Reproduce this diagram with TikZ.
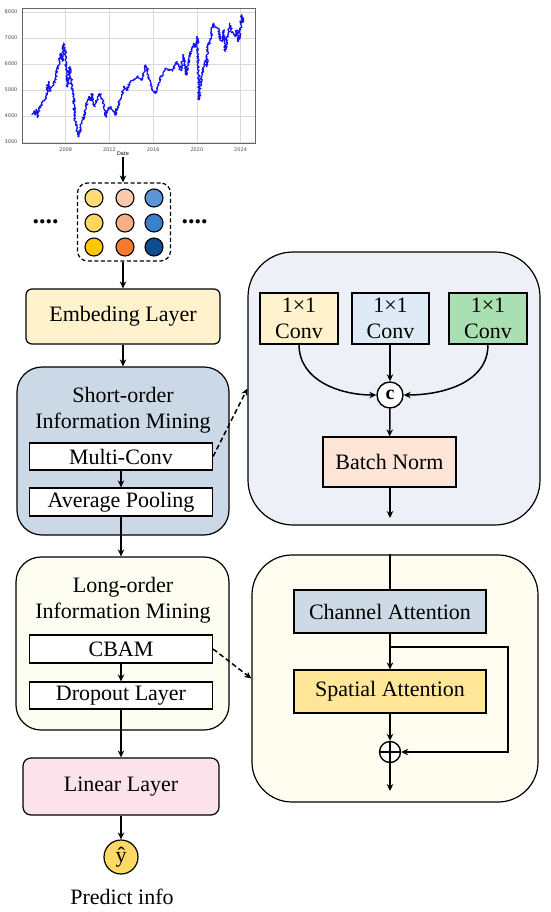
\documentclass[tikz,border=0pt]{standalone}
\usepackage{fontspec}
\setmainfont{Liberation Serif}
\newfontfamily\chartfont{DejaVu Sans}
\usetikzlibrary{arrows.meta,decorations.pathmorphing,positioning}
\definecolor{embedc}{RGB}{255,242,204}
\definecolor{shortc}{RGB}{203,216,229}
\definecolor{longc}{RGB}{254,253,242}
\definecolor{linearc}{RGB}{252,226,234}
\definecolor{convbg}{RGB}{237,241,247}
\definecolor{cbambg}{RGB}{255,253,239}
\definecolor{convA}{RGB}{255,242,204}
\definecolor{convB}{RGB}{222,235,247}
\definecolor{convC}{RGB}{169,223,177}
\definecolor{bnc}{RGB}{252,228,214}
\definecolor{cac}{RGB}{205,217,228}
\definecolor{sac}{RGB}{255,230,153}
\definecolor{yhatc}{RGB}{255,217,102}
\definecolor{plotblue}{RGB}{20,20,240}
\newcommand{\bigfont}{\fontsize{22}{26}\selectfont}
\tikzset{
  layer/.style={draw, line width=1.2pt, rounded corners=6pt, inner sep=0pt, font=\bigfont},
  block/.style={draw, line width=1.2pt, rounded corners=#1, inner sep=0pt},
  block/.default=25pt,
  sub/.style={draw, line width=1.2pt, fill=white, minimum width=183pt, inner sep=0pt, font=\bigfont},
  inbox/.style={draw, line width=1.2pt, inner sep=0pt, font=\bigfont, align=center},
  flow/.style={-{Stealth[length=7pt,width=6.5pt]}, line width=1.5pt},
  link/.style={flow, dash pattern=on 5pt off 3pt},
  token/.style={circle, draw, line width=1.1pt, minimum size=18pt, inner sep=0pt},
}
\begin{document}
\begin{tikzpicture}[x=1pt,y=-1pt]
\useasboundingbox (0,0) rectangle (550,912);
% price chart
\begin{scope}[shift={(-21.72,220)},x=10.93pt,y=26pt,font=\chartfont\fontsize{5}{6}\selectfont]
  \foreach \yr in {8,12,16,20,24}{
    \draw[black!15, line width=0.6pt] (\yr,2.94) -- (\yr,8.15);
    \node[anchor=north, text=black!70] at (\yr,2.9) {20\ifnum\yr<10 0\fi\yr};
  }
  \foreach \v in {3,...,8}{
    \draw[black!15, line width=0.6pt] (4.0,\v) -- (25.3,\v);
    \node[anchor=east, text=black!70] at (3.9,\v) {\v000};
  }
  \draw[black!60, line width=0.6pt] (4.0,2.94) rectangle (25.3,8.15);
  \pgfmathsetseed{11}
  \draw[plotblue, line width=1.2pt, line join=round,
    decorate, decoration={random steps, segment length=0.8pt, amplitude=1.3pt}]
    (4.9,4.04) -- (5.1,4.2) -- (5.2,4.05) -- (5.3,4.25) -- (5.4,3.95) -- (5.6,4.3) -- (6.0,4.6)
    -- (6.2,4.75) -- (6.4,5.32) -- (6.5,4.96) -- (6.7,5.1) -- (6.9,5.19) -- (7.1,5.5) -- (7.3,5.9)
    -- (7.5,6.3) -- (7.6,6.41) -- (7.7,6.1) -- (7.8,6.8) -- (7.95,6.5) -- (8.1,5.64) -- (8.2,5.13)
    -- (8.3,5.6) -- (8.4,5.9) -- (8.55,5.2) -- (8.7,4.74) -- (8.9,3.72) -- (9.05,3.4) -- (9.2,3.2)
    -- (9.35,3.6) -- (9.5,3.72) -- (9.8,4.23) -- (10.0,4.6) -- (10.1,4.74) -- (10.3,4.6) -- (10.4,4.87)
    -- (10.55,4.5) -- (10.7,4.36) -- (10.9,4.7) -- (11.1,4.87) -- (11.4,4.62) -- (11.6,4.2) -- (11.7,3.97)
    -- (11.9,4.3) -- (12.1,4.36) -- (12.3,4.2) -- (12.5,4.04) -- (12.7,4.3) -- (13.0,4.62) -- (13.2,4.9)
    -- (13.4,5.13) -- (13.6,5.0) -- (13.9,5.32) -- (14.2,5.4) -- (14.5,5.51) -- (14.8,5.45) -- (15.0,5.38)
    -- (15.2,5.7) -- (15.3,5.96) -- (15.45,5.8) -- (15.6,5.51) -- (15.75,5.2) -- (15.9,5.06) -- (16.1,4.9)
    -- (16.2,4.87) -- (16.4,5.1) -- (16.6,5.38) -- (16.9,5.6) -- (17.2,5.83) -- (17.5,5.75) -- (17.8,5.77)
    -- (18.0,5.95) -- (18.2,6.09) -- (18.35,5.9) -- (18.5,5.77) -- (18.65,6.1) -- (18.8,6.35) -- (19.0,5.57)
    -- (19.2,6.0) -- (19.4,6.35) -- (19.55,6.6) -- (19.7,6.8) -- (19.85,6.65) -- (20.05,7.05) -- (20.15,5.5)
    -- (20.2,4.62) -- (20.4,5.51) -- (20.6,5.8) -- (20.8,6.15) -- (20.9,5.9) -- (21.0,6.67) -- (21.2,6.9)
    -- (21.5,7.57) -- (21.7,7.4) -- (22.0,7.32) -- (22.15,6.95) -- (22.3,6.86) -- (22.45,7.3) -- (22.6,6.48)
    -- (22.8,7.1) -- (23.0,7.57) -- (23.2,7.2) -- (23.5,7.05) -- (23.65,7.3) -- (23.8,6.86) -- (24.0,7.4)
    -- (24.1,7.88) -- (24.2,7.6) -- (24.3,7.7);
\end{scope}
\node[font=\chartfont\fontsize{5}{6}\selectfont, inner sep=1pt] (date) at (123,154) {Date};

% input tokens
\node[draw, line width=1.2pt, dash pattern=on 4pt off 2.5pt, rounded corners=10pt,
  minimum width=93pt, minimum height=78pt] (tokens) at (124,222) {};
\node[token, fill={rgb,255:red,255;green,220;blue,115}] (tok-1-1) at (94,198) {};
\node[token, fill={rgb,255:red,255;green,215;blue,94}]  (tok-2-1) at (94,223) {};
\node[token, fill={rgb,255:red,255;green,199;blue,0}]   (tok-3-1) at (94,247) {};
\node[token, fill={rgb,255:red,248;green,203;blue,173}] (tok-1-2) at (125,198) {};
\node[token, fill={rgb,255:red,244;green,177;blue,131}] (tok-2-2) at (125,223) {};
\node[token, fill={rgb,255:red,244;green,123;blue,48}]  (tok-3-2) at (125,247) {};
\node[token, fill={rgb,255:red,91;green,149;blue,216}]  (tok-1-3) at (154,198) {};
\node[token, fill={rgb,255:red,58;green,128;blue,207}]  (tok-2-3) at (154,223) {};
\node[token, fill={rgb,255:red,13;green,76;blue,143}]   (tok-3-3) at (154,247) {};
\node[font=\fontsize{26}{26}\selectfont\bfseries] (dotsL) at (45.5,222) {....};
\node[font=\fontsize{26}{26}\selectfont\bfseries] (dotsR) at (194.5,222) {....};

% left column
\node[layer, fill=embedc, minimum width=194pt, minimum height=55pt] (embed) at (123,316.5) {Embeding Layer};
\node[block, fill=shortc, minimum width=212pt, minimum height=168pt] (short) at (123,451) {};
\node[font=\bigfont, align=center, inner sep=0pt] (shorttitle) at (123,410) {Short-order\\Information Mining};
\node[sub, minimum height=27pt] (mconv) at (121,456.5) {Multi-Conv};
\node[sub, minimum height=28pt] (avgpool) at (121,502) {Average Pooling};
\node[block, fill=longc, minimum width=213pt, minimum height=173pt] (long) at (122.5,643.5) {};
\node[font=\bigfont, align=center, inner sep=0pt] (longtitle) at (123,600) {Long-order\\Information Mining};
\node[sub, minimum height=28pt] (cbam) at (121,649) {CBAM};
\node[sub, minimum height=27pt] (dropout) at (121,695.5) {Dropout Layer};
\node[layer, fill=linearc, rounded corners=8pt, minimum width=196pt, minimum height=57pt] (linear) at (121,786.5) {Linear Layer};
\node[circle, draw, line width=1.2pt, fill=yhatc, minimum size=34pt, inner sep=0pt, font=\bigfont] (yhat) at (121,857) {ŷ};
\node[font=\bigfont, inner sep=0pt] (pred) at (122,897) {Predict info};

\draw[flow] (date) -- (date |- tokens.north);
\draw[flow] (tokens.south -| embed.north) -- (embed.north);
\draw[flow] (embed) -- (short);
\draw[flow] (mconv) -- (avgpool);
\draw[flow] (avgpool.south) -- (avgpool.south |- long.north);
\draw[flow] (cbam) -- (dropout);
\draw[flow] (dropout.south) -- (dropout.south |- linear.north);
\draw[flow] (linear.south) -- (linear.south |- yhat.north);

% multi-conv detail
\node[block=45pt, fill=convbg, minimum width=292pt, minimum height=273pt] (mcbox) at (394,388.5) {};
\node[inbox, fill=convA, minimum width=78pt, minimum height=51pt] (conv1) at (299,318.5) {1×1\\Conv};
\node[inbox, fill=convB, minimum width=77pt, minimum height=51pt] (conv2) at (390.5,318.5) {1×1\\Conv};
\node[inbox, fill=convC, minimum width=78pt, minimum height=51pt] (conv3) at (488,318.5) {1×1\\Conv};
\node[circle, draw, line width=1.4pt, fill=white, minimum size=26pt, inner sep=0pt,
  font=\fontsize{20}{20}\selectfont\bfseries] (cat) at (390,395) {c};
\node[inbox, fill=bnc, minimum width=133pt, minimum height=50pt] (bn) at (389.5,462) {Batch Norm};
\coordinate (mcout) at (390,518);
\draw[flow] (conv1.south) to[out=-90, in=180] (cat.west);
\draw[flow] (conv3.south) to[out=-90, in=0] (cat.east);
\draw[flow] (conv2.south -| cat.north) -- (cat.north);
\draw[flow] (cat) -- (bn);
\draw[flow] (bn.south -| mcout) -- (mcout);

% cbam detail
\node[block=40pt, fill=cbambg, minimum width=286pt, minimum height=247pt] (cbambox) at (395,678.5) {};
\node[inbox, fill=cac, minimum width=192pt, minimum height=43pt] (ca) at (390,611.5) {Channel Attention};
\node[inbox, fill=sac, minimum width=192pt, minimum height=43pt] (sa) at (390,691.5) {Spatial Attention};
\node[circle, draw, line width=1.4pt, fill=white, minimum size=21pt, inner sep=0pt,
  path picture={\draw[line width=1.2pt] (path picture bounding box.north) -- (path picture bounding box.south)
    (path picture bounding box.west) -- (path picture bounding box.east);}] (add) at (390,752) {};
\coordinate (skip) at (508,647);
\coordinate (cbamout) at (390,791);
\draw[line width=1.5pt] (ca.north |- cbambox.north) -- (ca.north);
\draw[flow] (ca) -- (sa);
\draw[flow] (ca.south |- skip) -- (skip) |- (add.east);
\draw[flow] (sa) -- (add);
\draw[flow] (add) -- (cbamout);

% detail links
\draw[link] (mconv.east) -- (mcbox.west);
\draw[link] (cbam.east) -- (cbambox.west);
\end{tikzpicture}
\end{document}
